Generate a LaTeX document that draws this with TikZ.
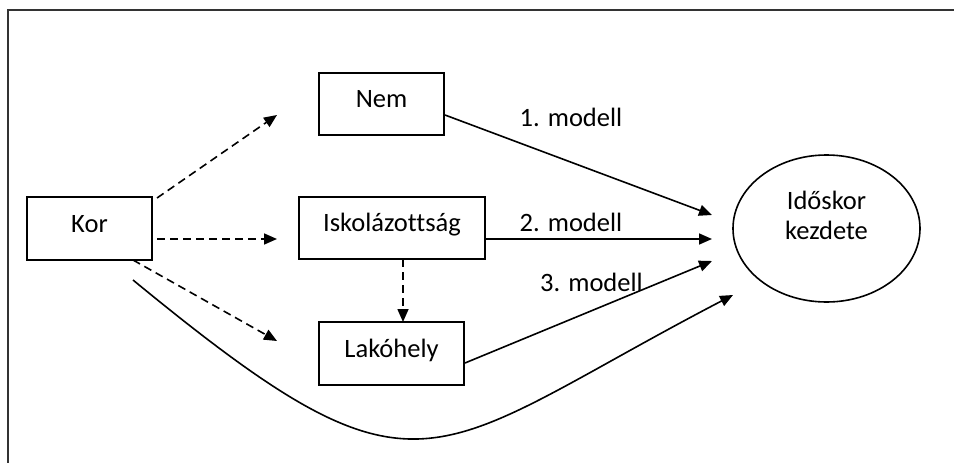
\documentclass[tikz,border=0pt]{standalone}
\usepackage{fontspec}
\setmainfont[Ligatures=NoCommon]{Carlito}
\usetikzlibrary{arrows.meta,shapes.geometric}
\begin{document}
\begin{tikzpicture}[x=1pt,y=-1pt,
  every node/.style={font=\fontsize{26.5}{30}\selectfont},
  box/.style={draw, line width=1.6pt, inner sep=0pt, text height=13pt, text depth=5.6pt},
  arr/.style={-{Triangle[length=13pt,width=11pt]}, line width=1.6pt},
  darr/.style={arr, dash pattern=on 8pt off 5pt},
  lbl/.style={anchor=base, inner sep=0pt}]
\useasboundingbox (0,0) rectangle (954,463);
% frame
\draw[line width=2.6pt, black!80] (8,463) -- (8,10) -- (954,10);
% nodes
\node[box, minimum width=125pt, minimum height=63pt] (kor) at (89.5,228.5) {Kor};
\node[box, minimum width=125pt, minimum height=62pt] (nem) at (381.5,104) {Nem};
\node[box, minimum width=186pt, minimum height=62pt] (isk) at (392,228) {Iskolázottság};
\node[box, minimum width=145pt, minimum height=63pt] (lak) at (391.5,353.5) {Lakóhely};
\node[draw, ellipse, line width=1.6pt, minimum width=187pt, minimum height=147pt, inner sep=0pt, align=center] (ell) at (826.5,228.5) {Időskor\\kezdete\rule[-27pt]{0pt}{0pt}};
% labels
\node[lbl] (m1) at (571,126.7) {1. modell};
\node[lbl] (m2) at (571,231) {2. modell};
\node[lbl] (m3) at (591.5,291.7) {3. modell};
% coordinates
\coordinate (k1) at (157,198); \coordinate (tn) at (277,115);
\coordinate (k2) at (157,239); \coordinate (ti) at (277,239);
\coordinate (k3) at (133,260); \coordinate (tl) at (277,341);
\coordinate (i1) at (403,259); \coordinate (l0) at (403,322);
\coordinate (n1) at (445,115); \coordinate (e1) at (712,215);
\coordinate (i2) at (485,239); \coordinate (e2) at (712,239);
\coordinate (l1) at (465,363); \coordinate (e3) at (712,261);
\coordinate (c0) at (133,280); \coordinate (e4) at (733,295);
% dashed arrows
\draw[darr] (k1) -- (tn);
\draw[darr] (k2) -- (ti);
\draw[darr] (k3) -- (tl);
\draw[darr] (i1) -- (l0);
% solid arrows
\draw[arr] (n1) -- (e1);
\draw[arr] (i2) -- (e2);
\draw[arr] (l1) -- (e3);
\draw[arr] (c0) .. controls (425,520) and (424,456) .. (e4);
\end{tikzpicture}
\end{document}
